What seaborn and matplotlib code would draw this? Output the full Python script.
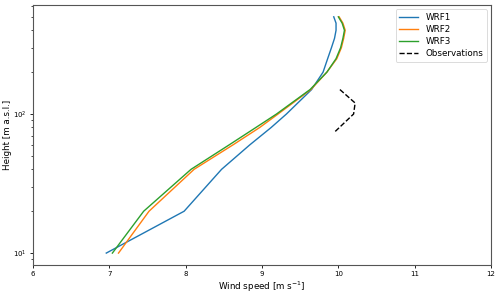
import matplotlib
matplotlib.use('Agg')
import matplotlib.pyplot as plt
import pandas as pd
import seaborn as sns

# model levels [m a.s.l.]
heights = [10, 20, 40, 60, 80, 100, 150, 200, 250, 300, 350, 400, 450, 500]
wrf1 = [6.96, 7.98, 8.47, 8.84, 9.12, 9.32, 9.65, 9.80, 9.86, 9.91, 9.95, 9.97, 9.97, 9.94]
wrf2 = [7.12, 7.52, 8.11, 8.62, 8.97, 9.21, 9.64, 9.85, 9.98, 10.04, 10.07, 10.09, 10.06, 10.01]
wrf3 = [7.04, 7.45, 8.07, 8.57, 8.92, 9.19, 9.63, 9.85, 9.97, 10.03, 10.06, 10.08, 10.05, 10.00]

obs_heights = [75, 100, 120, 150]
obs_speed = [9.96, 10.20, 10.22, 10.02]

runs = ["WRF1", "WRF2", "WRF3"]
df = pd.concat([
    pd.DataFrame({"speed": s, "height": heights, "run": r})
    for r, s in zip(runs, [wrf1, wrf2, wrf3])
])
obs = pd.DataFrame({"speed": obs_speed, "height": obs_heights})

fig = plt.figure(figsize=(5, 2.94), dpi=100)
ax = fig.add_axes([0.066, 0.099, 0.916, 0.884])

sns.lineplot(data=df, x="speed", y="height", hue="run", sort=False,
             estimator=None, palette=["#1f77b4", "#ff7f0e", "#2ca02c"],
             linewidth=1.0, ax=ax)
sns.lineplot(data=obs, x="speed", y="height", sort=False, estimator=None,
             color="black", linestyle="--", linewidth=1.0,
             label="Observations", ax=ax)

ax.set_yscale("log")
ax.set_xlim(6, 12)
ax.set_xticks(range(6, 13))
ax.set_xlabel(r"Wind speed [m s$^{-1}$]", fontsize=6.3, labelpad=2)
ax.set_ylabel("Height [m a.s.l.]", fontsize=6.3, labelpad=1)
ax.tick_params(labelsize=5, length=2.5, pad=2, width=0.6)
ax.tick_params(which="minor", length=1.5, width=0.5)

leg = ax.legend(loc="upper right", fontsize=6.3, handlelength=2.2,
                borderpad=0.4, labelspacing=0.35)
leg.get_frame().set_linewidth(0.6)

for s in ax.spines.values():
    s.set_color("#555555")
    s.set_linewidth(0.8)

fig.savefig("out.png", dpi=100)
